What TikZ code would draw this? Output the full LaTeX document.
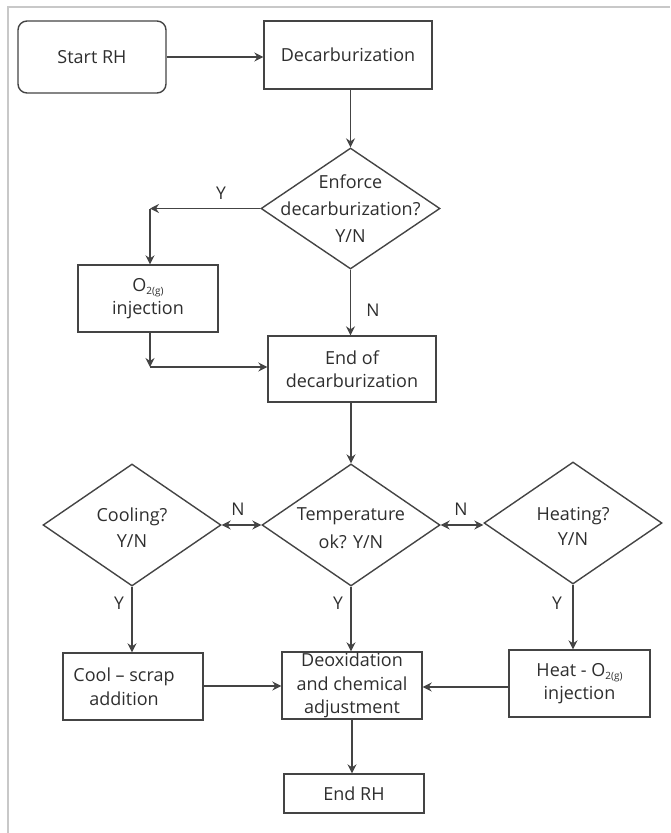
\documentclass[tikz,border=0pt]{standalone}
\usepackage{fontspec}
\setmainfont{Open Sans}
\usetikzlibrary{shapes.geometric,arrows.meta}
\definecolor{ln}{HTML}{444444}
\definecolor{tx}{HTML}{2E2E2E}
\definecolor{fr}{HTML}{C8C8C8}
\newcommand{\subg}{\raisebox{-0.4ex}{\fontsize{10}{12}\selectfont 2(g)}}
\begin{document}
\begin{tikzpicture}[x=1pt,y=-1pt,
  every node/.style={text=tx,font=\fontsize{18}{23.5}\selectfont},
  box/.style={draw=ln,line width=1.4pt,rectangle,inner sep=0pt,align=center},
  dia/.style={draw=ln,line width=1.4pt,diamond,inner sep=0pt,minimum width=178pt,minimum height=122pt},
  conn/.style={draw=ln,line width=1.4pt,-{Stealth[length=9pt,width=9pt,inset=3pt]}},
  dconn/.style={draw=ln,line width=1.4pt,{Stealth[length=9pt,width=9pt,inset=3pt]}-{Stealth[length=9pt,width=9pt,inset=3pt]}},
  lab/.style={font=\fontsize{17.5}{20}\selectfont}]
\useasboundingbox (0,0) rectangle (670,833);
\draw[fr,line width=2pt] (8,833) -- (8,7) -- (670,7);
% nodes
\node[box,rounded corners=9pt,minimum width=148pt,minimum height=72pt] (start) at (92,57) {Start RH};
\node[box,minimum width=168pt,minimum height=68pt] (decarb) at (348,55) {Decarburization};
\node[dia,minimum width=179pt,minimum height=121pt,
  label={[align=center,font=\fontsize{18}{27}\selectfont]center:Enforce\\decarburization?\\Y/N}] (enf) at (350.5,208.5) {};
\node[box,minimum width=140pt,minimum height=67pt] (o2) at (148,298.5) {O\subg\\injection};
\node[box,minimum width=168pt,minimum height=66pt] (endd) at (352,369) {End of\\decarburization};
\node[dia,label={[align=center,font=\fontsize{18}{28}\selectfont,yshift=-3pt]center:Temperature\\ok? Y/N}] (temp) at (351,525) {};
\node[dia,label={[align=center,font=\fontsize{18}{26}\selectfont,yshift=-3pt]center:Cooling?\\Y/N}] (coold) at (132,525) {};
\node[dia,label={[align=center,font=\fontsize{18}{25}\selectfont,yshift=-3pt]center:Heating?\\Y/N}] (heatd) at (573,523) {};
\node[box,minimum width=140pt,minimum height=67pt,
  label={[align=center,xshift=-9pt]center:Cool -- scrap\\addition}] (cool) at (133,686.5) {};
\node[box,minimum width=140pt,minimum height=67pt] (deox) at (352,685.5) {Deoxidation\\and chemical\\adjustment};
\node[box,minimum width=141pt,minimum height=67pt] (heat) at (579.5,683.5) {Heat - O\subg\\injection};
\node[box,minimum width=140pt,minimum height=39pt] (endrh) at (354,793.5) {End RH};
% helper coordinates
\coordinate (cy) at (150,208.5);
\coordinate (co) at (150,367);
% connectors
\draw[conn] (start.east) -- (start.east -| decarb.west);
\draw[conn] (enf.north |- decarb.south) -- (enf.north);
\draw[conn] (enf.west) -- (cy);
\draw[conn] (cy) -- (cy |- o2.north);
\draw[conn] (enf.south) -- (enf.south |- endd.north);
\draw[conn] (co |- o2.south) -- (co);
\draw[conn] (co) -- (co -| endd.west);
\draw[conn] (temp.north |- endd.south) -- (temp.north);
\draw[dconn] (coold.east) -- (temp.west);
\draw[dconn] (temp.east) -- (temp.east -| heatd.west);
\draw[conn] (coold.south) -- (coold.south |- cool.north);
\draw[conn] (temp.south) -- (temp.south |- deox.north);
\draw[conn] (heatd.south) -- (heatd.south |- heat.north);
\draw[conn] (cool.east |- 0,686) -- (deox.west |- 0,686);
\draw[conn] (heat.west |- 0,687) -- (deox.east |- 0,687);
\draw[conn] (deox.south) -- (deox.south |- endrh.north);
% labels
\node[lab] (ly1) at (221,193) {Y};
\node[lab] (ln1) at (373,310) {N};
\node[lab] (ln2) at (238,509) {N};
\node[lab] (ln3) at (461,509) {N};
\node[lab] (ly2) at (119,603) {Y};
\node[lab] (ly3) at (338,603) {Y};
\node[lab] (ly4) at (557,603) {Y};
\end{tikzpicture}
\end{document}
